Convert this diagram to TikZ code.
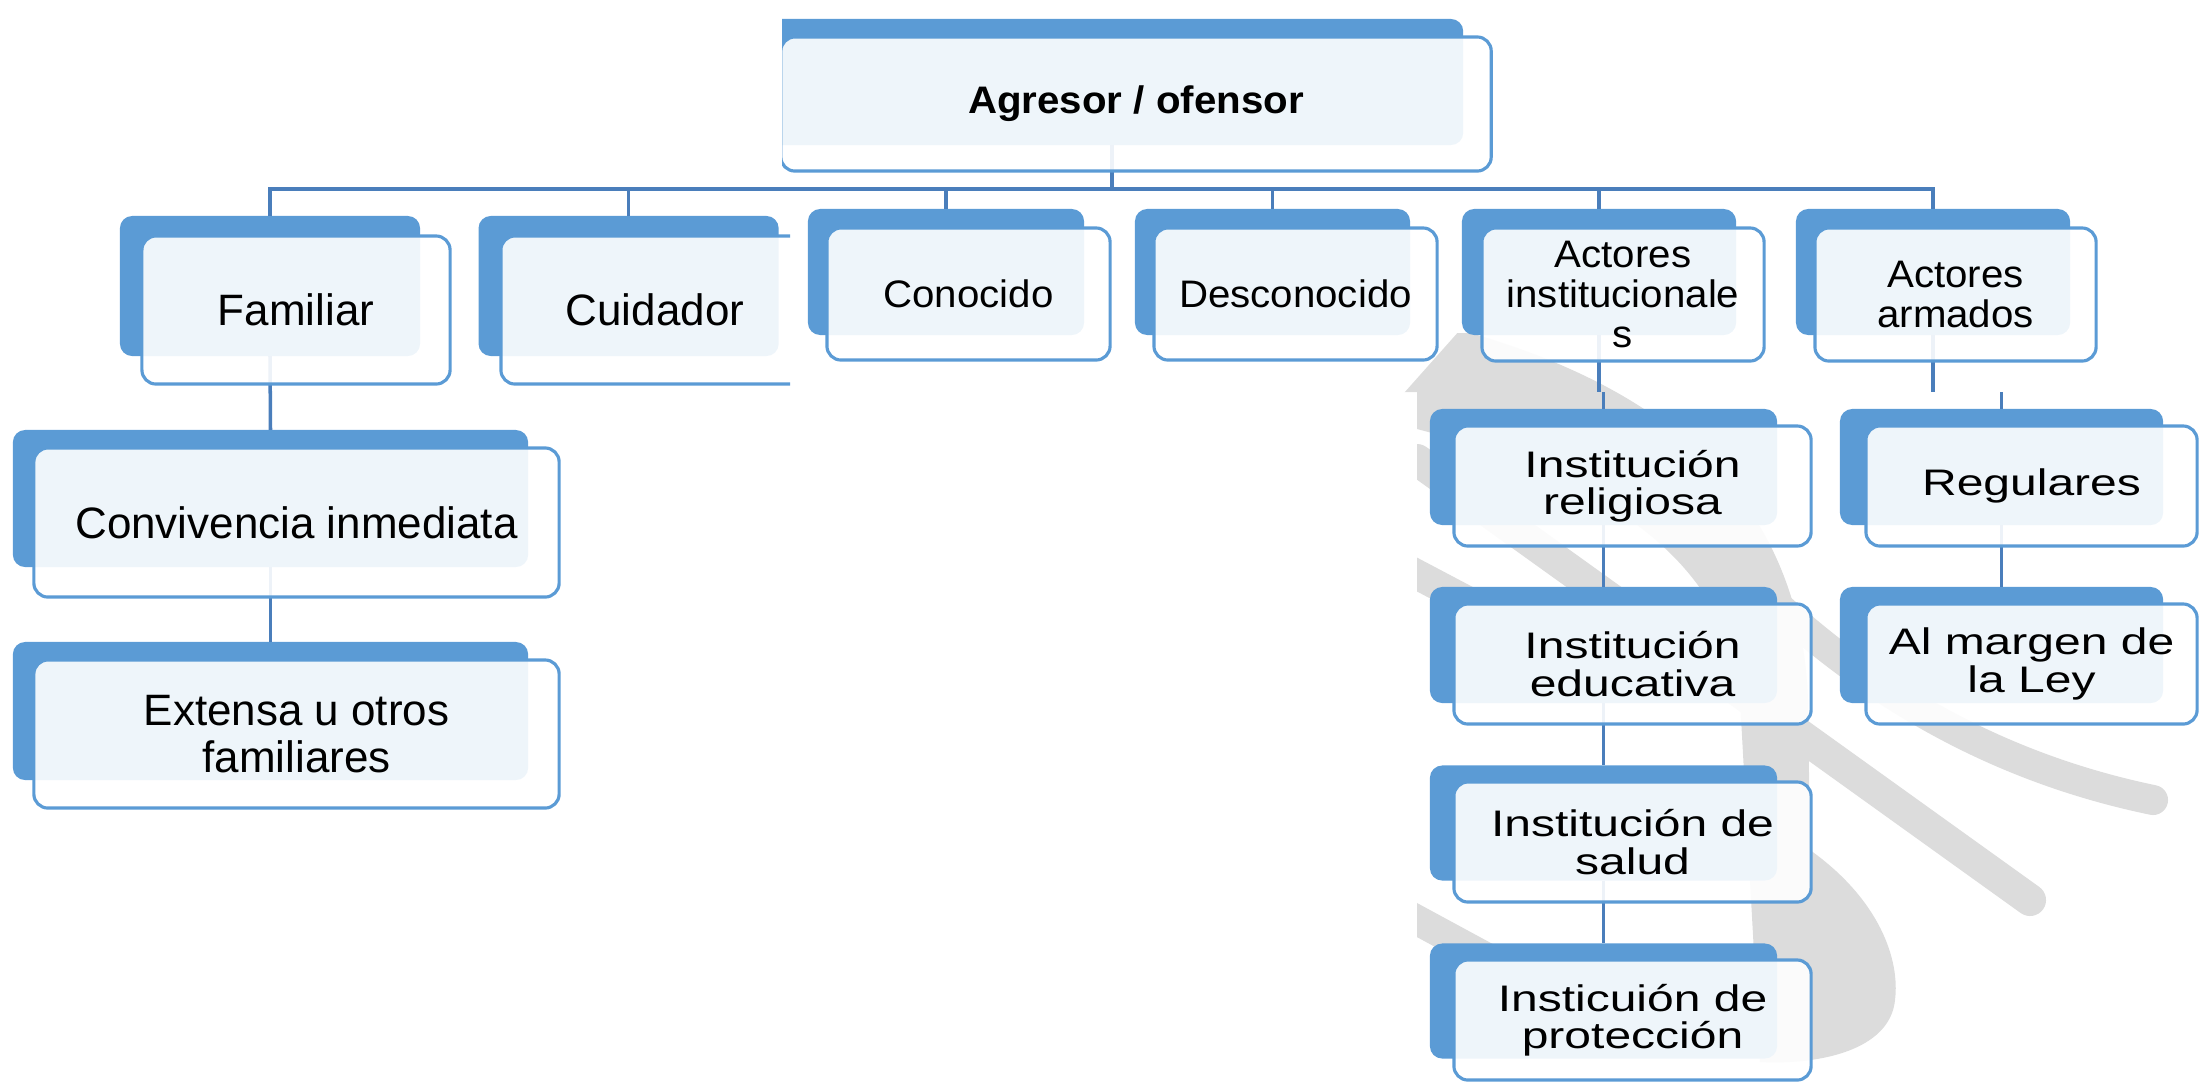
\documentclass[tikz,border=0pt]{standalone}
\usepackage{fontspec}
\setmainfont{Liberation Sans}
\newfontfamily\midfont{Liberation Sans}[FakeStretch=1.05]
\newfontfamily\widefont{Liberation Sans}[FakeStretch=1.3]
\usepackage{tikz}

\definecolor{boxblue}{HTML}{5B9BD5}
\definecolor{linkblue}{HTML}{4A7EBB}
\definecolor{markgray}{HTML}{DCDCDC}

\begin{document}
\begin{tikzpicture}[x=0.01cm,y=-0.01cm,
	backbox/.style={fill=boxblue,rounded corners=3.5pt,inner sep=0pt,outer sep=0pt},
	frontbox/.style={draw=boxblue,line width=0.9pt,fill=white,fill opacity=0.9,text opacity=1,
		rounded corners=4pt,inner sep=0pt,outer sep=0pt,align=center,text=black},
	lefttext/.style={font=\fontsize{12.5}{13.2}\selectfont},
	midtext/.style={font=\midfont\fontsize{10.9}{11.3}\selectfont},
	widetext/.style={font=\widefont\fontsize{10.5}{10.6}\selectfont},
	link/.style={draw=linkblue,line width=1pt}]
		\useasboundingbox (0,0) rectangle (2204,1084);
		% watermark behind the lower right part
		\begin{scope}
			\clip (1395,333) rectangle (2204,392) (1417,392) rectangle (2204,1084);
			\fill[markgray] (1460,330) .. controls (1640,380) and (1800,480) .. (1808,700) -- (1810,850)
				.. controls (1880,900) and (1900,960) .. (1895,1000)
				.. controls (1890,1050) and (1820,1065) .. (1760,1062) -- (1740,700)
				.. controls (1730,560) and (1600,470) .. (1380,420) -- cycle;
			\draw[markgray,line width=0.30cm,line cap=round] (1740,570) .. controls (1830,660) and (1960,760) .. (2153,800);
			\draw[markgray,line width=0.32cm,line cap=round] (1417,460) -- (2030,900);
			\draw[markgray,line width=0.30cm] (1380,555) -- (1560,650);
			\draw[markgray,line width=0.30cm] (1380,900) -- (1500,965);
		\end{scope}
		% back boxes
		\begin{scope}
			\clip (782,0) rectangle (2204,190);
			\node[backbox,minimum width=7.02cm,minimum height=1.26cm] (agrb) at (1112,82) {};
		\end{scope}
		\node[backbox,minimum width=3.00cm,minimum height=1.40cm] (famb) at (270,286) {};
		\node[backbox,minimum width=3.00cm,minimum height=1.40cm] (cuib) at (628.6,286) {};
		\node[backbox,minimum width=2.76cm,minimum height=1.26cm] (conb) at (946,272) {};
		\node[backbox,minimum width=2.75cm,minimum height=1.26cm] (desb) at (1272.5,272) {};
		\node[backbox,minimum width=2.74cm,minimum height=1.26cm] (insb) at (1599,272) {};
		\node[backbox,minimum width=2.74cm,minimum height=1.26cm] (armb) at (1933,272) {};
		\node[backbox,minimum width=5.15cm,minimum height=1.37cm] (convb) at (270.5,498.5) {};
		\node[backbox,minimum width=5.15cm,minimum height=1.38cm] (extb) at (270.5,711) {};
		\node[backbox,minimum width=3.47cm,minimum height=1.16cm] (relb) at (1603.5,467) {};
		\node[backbox,minimum width=3.47cm,minimum height=1.16cm] (edub) at (1603.5,645) {};
		\node[backbox,minimum width=3.47cm,minimum height=1.15cm] (salb) at (1603.5,823) {};
		\node[backbox,minimum width=3.47cm,minimum height=1.15cm] (prob) at (1603.5,1001) {};
		\node[backbox,minimum width=3.23cm,minimum height=1.16cm] (regb) at (2001.5,467) {};
		\node[backbox,minimum width=3.23cm,minimum height=1.16cm] (marb) at (2001.5,645) {};
		% connectors
		\coordinate (bar) at (0,189);
		\coordinate (cut) at (0,392);
		\draw[link] (agrb.south) -- (agrb.south |- bar);
		\draw[link] (famb.north) -- (famb.north |- bar) -- (armb.north |- bar) -- (armb.north);
		\foreach \n in {cuib,conb,desb,insb}
			\draw[link] (\n.north) -- (\n.north |- bar);
		\draw[link] (famb.south) -- (convb.north);
		\draw[link] (convb.south) -- (extb.north);
		\draw[link] (insb.south) -- (insb.south |- cut);
		\draw[link] (relb.north) -- (relb.north |- cut);
		\draw[link] (armb.south) -- (armb.south |- cut);
		\draw[link] (regb.north) -- (regb.north |- cut);
		\draw[link] (relb.south) -- (edub.north);
		\draw[link] (edub.south) -- (salb.north);
		\draw[link] (salb.south) -- (prob.north);
		\draw[link] (regb.south) -- (marb.north);
		% front boxes
		\begin{scope}
			\clip (782,0) rectangle (2204,190);
			\node[frontbox,midtext,minimum width=7.10cm,minimum height=1.34cm] (agr) at (1136,104) {\bfseries Agresor / ofensor};
		\end{scope}
		\node[frontbox,lefttext,minimum width=3.08cm,minimum height=1.48cm] (fam) at (296,310) {Familiar};
		\begin{scope}
			\clip (0,190) rectangle (790,400);
			\node[frontbox,lefttext,minimum width=3.08cm,minimum height=1.48cm] (cui) at (655,310) {Cuidador};
		\end{scope}
		\node[frontbox,midtext,minimum width=2.83cm,minimum height=1.32cm] (con) at (968.5,294) {Conocido};
		\node[frontbox,midtext,minimum width=2.83cm,minimum height=1.32cm] (des) at (1295.5,294) {Desconocido};
		\node[frontbox,midtext,minimum width=2.82cm,minimum height=1.33cm] (ins) at (1623,294.5) {Actores\\institucionale\\s};
		\node[frontbox,midtext,minimum width=2.81cm,minimum height=1.33cm] (arm) at (1955.5,294.5) {Actores\\armados};
		\node[frontbox,lefttext,minimum width=5.25cm,minimum height=1.49cm] (conv) at (296.5,522.5) {Convivencia inmediata};
		\node[frontbox,lefttext,minimum width=5.25cm,minimum height=1.48cm] (ext) at (296.5,734) {Extensa u otros\\familiares};
		\node[frontbox,widetext,minimum width=3.57cm,minimum height=1.20cm] (rel) at (1632.5,486) {Institución\\religiosa};
		\node[frontbox,widetext,minimum width=3.57cm,minimum height=1.20cm] (edu) at (1632.5,664) {Institución\\educativa};
		\node[frontbox,widetext,minimum width=3.57cm,minimum height=1.20cm] (sal) at (1632.5,842) {Institución de\\salud};
		\node[frontbox,widetext,minimum width=3.57cm,minimum height=1.20cm] (pro) at (1632.5,1020) {Insticuión de\\protección};
		\node[frontbox,widetext,minimum width=3.31cm,minimum height=1.20cm] (reg) at (2031.5,486) {Regulares};
		\node[frontbox,widetext,minimum width=3.31cm,minimum height=1.20cm] (mar) at (2031.5,664) {Al margen de\\la Ley};
	\end{tikzpicture}
\end{document}
